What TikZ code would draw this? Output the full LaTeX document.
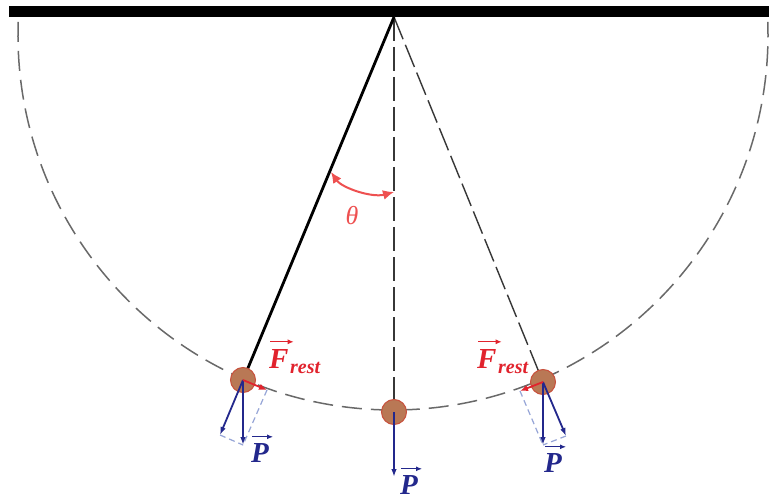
\documentclass[tikz,border=0pt]{standalone}
\usepackage{fontspec}
\setmainfont{Liberation Serif}
\usetikzlibrary{arrows.meta}
\definecolor{fred}{RGB}{225,35,45}
\definecolor{tred}{RGB}{238,80,80}
\definecolor{pblue}{RGB}{35,40,140}
\definecolor{lblue}{RGB}{150,165,215}
\definecolor{bobfill}{RGB}{185,120,85}
\definecolor{bobline}{RGB}{200,80,60}
\definecolor{arcgray}{RGB}{105,105,105}
\definecolor{dgray}{RGB}{55,55,55}
\tikzset{
  bob/.style={circle, draw=bobline, fill=bobfill, line width=1pt, minimum size=25pt, inner sep=0pt},
  pvec/.style={pblue, line width=1.8pt, -{Latex[length=8pt,width=5.5pt]}},
  fvec/.style={fred, line width=1.8pt, -{Latex[length=8pt,width=6.5pt]}},
  comp/.style={lblue, line width=1.2pt, dash pattern=on 6pt off 4pt},
  arcdash/.style={arcgray, line width=1.5pt, dash pattern=on 20pt off 9pt},
  strdash/.style={dgray, line width=1.4pt, dash pattern=on 24pt off 6pt},
  vlab/.style={font=\fontsize{29}{32}\selectfont\bfseries\itshape, inner sep=0pt, anchor=base west},
  slab/.style={font=\fontsize{20}{22}\selectfont\bfseries\itshape, inner sep=0pt, anchor=base west},
  harrow/.style={line width=1.3pt, -{Latex[length=6pt,width=5pt]}},
  tarc/.style={tred, line width=2pt, {Latex[length=11pt,width=10pt]}-{Latex[length=11pt,width=10pt]}}
}
\begin{document}
\begin{tikzpicture}[x=1pt,y=-1pt]
\useasboundingbox (0,0) rectangle (769,500);
\fill[white] (0,0) rectangle (769,500);
% support bar
\fill[black] (9,6) rectangle (769,17);
\coordinate (pv) at (394,17);
\coordinate (oc) at (393,35);
% bob centres
\coordinate (cL) at (243,380);
\coordinate (cC) at (394,412);
\coordinate (cR) at (543,382);
% dashed trajectory
\draw[arcdash] (oc) ++(182:375) arc[start angle=182, end angle=-2, radius=375];
% strings
\draw[strdash] (pv) -- (cC);
\draw[strdash] (pv) -- (cR);
\draw[black, line width=2.8pt] (pv) -- (cL);
% theta arc
\coordinate (tA) at (331,172);
\coordinate (tB) at (394,192);
\draw[tarc] (tA) .. controls (342,188) and (372,198) .. (tB);
\node[font=\fontsize{26}{28}\selectfont\itshape, text=tred, inner sep=0pt] (th) at (352,216) {θ};
% bobs
\node[bob] (bL) at (cL) {};
\node[bob] (bC) at (cC) {};
\node[bob] (bR) at (cR) {};
% vector end points, left
\coordinate (lF) at (267,390);
\coordinate (lP) at (243,445);
\coordinate (lN) at (220,435);
\draw[comp] (lF) -- (lP);
\draw[comp] (lN) -- (lP);
\draw[pvec] (bL.center) -- (lP);
\draw[pvec] (bL.center) -- (lN);
\draw[fvec] (bL.center) -- (lF);
% vector end points, right
\coordinate (rF) at (520,391);
\coordinate (rP) at (543,445);
\coordinate (rN) at (566,436);
\draw[comp] (rF) -- (rP);
\draw[comp] (rN) -- (rP);
\draw[pvec] (bR.center) -- (rP);
\draw[pvec] (bR.center) -- (rN);
\draw[fvec] (bR.center) -- (rF);
% centre
\coordinate (cP) at (394,477);
\draw[pvec] (bC.center) -- (cP);
% labels F_rest left
\node[vlab, text=fred] (FL) at (269,368) {F};
\node[slab, text=fred] (FLs) at (290,373) {rest};
\draw[harrow, fred] ([yshift=7pt,xshift=1pt]FL.north west) -- ([yshift=7pt,xshift=5pt]FL.north east);
% labels F_rest right
\node[vlab, text=fred] (FR) at (477,368) {F};
\node[slab, text=fred] (FRs) at (498,373) {rest};
\draw[harrow, fred] ([yshift=7pt,xshift=1pt]FR.north west) -- ([yshift=7pt,xshift=5pt]FR.north east);
% P labels
\node[vlab, text=pblue] (PL) at (251,462) {P};
\draw[harrow, pblue] ([yshift=6pt,xshift=1pt]PL.north west) -- ([yshift=6pt,xshift=4pt]PL.north east);
\node[vlab, text=pblue] (PR) at (544,472) {P};
\draw[harrow, pblue] ([yshift=6pt,xshift=1pt]PR.north west) -- ([yshift=6pt,xshift=4pt]PR.north east);
\node[vlab, text=pblue] (PC) at (400,494) {P};
\draw[harrow, pblue] ([yshift=6pt,xshift=1pt]PC.north west) -- ([yshift=6pt,xshift=4pt]PC.north east);
\end{tikzpicture}
\end{document}
